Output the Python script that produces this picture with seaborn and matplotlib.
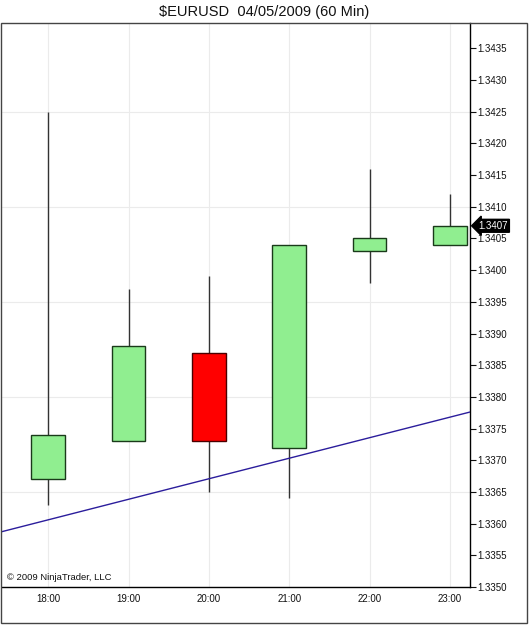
import seaborn as sns
import matplotlib.pyplot as plt
from matplotlib.patches import Rectangle
from matplotlib.ticker import MultipleLocator, FormatStrFormatter
import numpy as np

# hourly bars, 04/05/2009
hours  = ["18:00", "19:00", "20:00", "21:00", "22:00", "23:00"]
opens  = [1.3367, 1.3373, 1.3387, 1.3372, 1.3403, 1.3404]
highs  = [1.3425, 1.3397, 1.3399, 1.3404, 1.3416, 1.3412]
lows   = [1.3363, 1.3373, 1.3365, 1.3364, 1.3398, 1.3404]
closes = [1.3374, 1.3388, 1.3373, 1.3404, 1.3405, 1.3407]

# trend line, value at first and last bar
trend_vals = [1.33606, 1.33768]
last_price = 1.3407

sns.set_style("white")
plt.rcParams["font.family"] = ["Liberation Sans", "DejaVu Sans"]

fig = plt.figure(figsize=(5.29, 6.25), dpi=100)
ax = fig.add_axes([2/529, 38/625, 468/529, 564/625])

x = np.arange(len(hours))
o = np.array(opens); c = np.array(closes)
up = c >= o
body_lo = np.minimum(o, c)
body_h = np.abs(c - o)

ax.vlines(x, lows, highs, color="#333333", lw=1, zorder=2)
ax.bar(x[up], body_h[up], bottom=body_lo[up], width=0.42,
       color="#90ee90", edgecolor="#1a3a1a", lw=1, zorder=3)
ax.bar(x[~up], body_h[~up], bottom=body_lo[~up], width=0.42,
       color="#ff0000", edgecolor="#4a0000", lw=1, zorder=3)

ax.axline((x[0], trend_vals[0]), (x[-1], trend_vals[1]), color="#2b1d9c", lw=1, zorder=4)

ax.set_xlim(-0.575, 5.25)
ax.set_ylim(1.3350, 1.3439)
ax.set_xticks(x)
ax.set_xticklabels(hours)

ax.yaxis.tick_right()
ax.yaxis.set_major_locator(MultipleLocator(0.0005))
ax.yaxis.set_major_formatter(FormatStrFormatter("%.4f"))
ax.yaxis.set_minor_locator(MultipleLocator(0.0015))
ax.yaxis.remove_overlapping_locs = False
ax.tick_params(axis="y", which="minor", length=0)
ax.tick_params(axis="y", which="major", direction="out", length=4, width=0.8,
               labelsize=7, colors="#111111", pad=1)
ax.tick_params(axis="x", direction="out", length=3, width=0.8,
               labelsize=7, colors="#111111", pad=2)
ax.grid(which="minor", axis="y", color="#ebebeb", lw=0.8)
ax.grid(which="major", axis="x", color="#ebebeb", lw=0.8)
ax.set_axisbelow(True)

for s in ["left", "top"]:
    ax.spines[s].set_visible(False)
for s in ["right", "bottom"]:
    ax.spines[s].set_color("black")
    ax.spines[s].set_linewidth(1)

ax.text(1.018, last_price, f"{last_price:.4f}", transform=ax.get_yaxis_transform(),
        ha="left", va="center", fontsize=7, color="white",
        bbox=dict(boxstyle="larrow,pad=0.15", fc="black", ec="black"))

ax.text(0.01, 0.008, "© 2009 NinjaTrader, LLC", transform=ax.transAxes,
        ha="left", va="bottom", fontsize=6.8, color="#111111")

fig.text(0.5, 1 - 12/625, "$EURUSD  04/05/2009 (60 Min)", ha="center", va="center",
         fontsize=10.5, color="#111111")

fig.add_artist(Rectangle((1/529, 2/625), 526/529, 600/625, transform=fig.transFigure,
                         fill=False, ec="#444444", lw=1))

fig.savefig("out.png", dpi=100)
